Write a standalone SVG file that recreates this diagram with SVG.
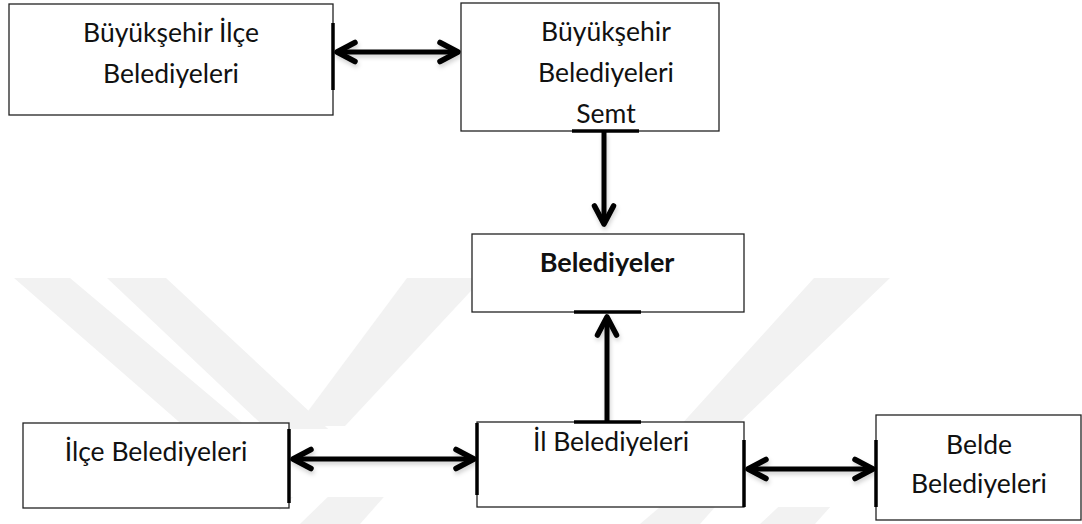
<svg xmlns="http://www.w3.org/2000/svg" width="1082" height="524" viewBox="0 0 1082 524">
<style>
.box{fill:#fff;stroke:#222;stroke-width:1.3}
.t{font-family:Lato,"Liberation Sans",Arial,sans-serif;font-size:26.5px;fill:#111;text-anchor:middle}
.b{font-weight:bold;font-size:27px}
.wm{fill:#f2f2f2}
.bar{stroke:#000;stroke-width:3.5;fill:none}
.ln{stroke:#000;stroke-width:5;fill:none;marker-end:url(#ah)}
.dbl{marker-start:url(#ah)}
.clr{fill:#fff}
</style>
<defs>
<marker id="ah" markerUnits="userSpaceOnUse" markerWidth="40" markerHeight="40" viewBox="-30 -20 40 40" refX="0" refY="0" orient="auto-start-reverse" overflow="visible">
<path d="M-18,-9.5 L0,0 L-18,9.5" fill="none" stroke="#000" stroke-width="5.5" stroke-linecap="round" stroke-linejoin="round"/>
</marker>
<filter id="sh" x="-10%" y="-30%" width="130%" height="180%"><feDropShadow dx="1" dy="3" stdDeviation="2" flood-color="#000" flood-opacity="0.18"/></filter>
</defs>
<rect width="1082" height="524" fill="#fff"/>
<g id="watermark">
<polygon class="wm" points="14,278 70,278 310,480 280,510"/>
<polygon class="wm" points="107,278 166,278 340,440 310,470"/>
<polygon class="wm" points="407,278 483,278 345,426 297,426"/>
<polygon class="wm" points="814,278 890,278 690,470 640,470"/>
<polygon class="wm" points="300,524 335,490 390,490 360,524"/>
<polygon class="wm" points="640,524 680,490 730,490 700,524"/>
<polygon class="wm" points="760,524 790,496 840,496 815,524"/>
</g>
<g id="connectors">
<rect class="clr" x="290" y="429" width="187" height="68"/>
<rect class="clr" x="744" y="440" width="132" height="67"/>
<rect class="clr" x="574" y="312" width="67" height="110"/>
<g filter="url(#sh)">
<line class="ln dbl" x1="337" y1="52" x2="458" y2="52"/>
<line class="ln" x1="604" y1="132" x2="604" y2="224"/>
<line class="ln" x1="607" y1="421" x2="607" y2="317"/>
<line class="ln dbl" x1="293" y1="459" x2="474" y2="459"/>
<line class="ln dbl" x1="748" y1="469" x2="873" y2="469"/>
</g>
</g>
<g id="n1"><rect class="box" x="9" y="4" width="324" height="111"/>
<text class="t" x="171" y="42">Büyükşehir İlçe</text><text class="t" x="171" y="83">Belediyeleri</text></g>
<g id="n2"><rect class="box" x="461" y="3" width="258" height="128"/>
<text class="t" x="606" y="41">Büyükşehir</text><text class="t" x="606" y="82">Belediyeleri</text><text class="t" x="606" y="123">Semt</text></g>
<g id="n3"><rect class="box" x="472" y="234" width="272" height="78"/>
<text class="t b" x="607" y="272">Belediyeler</text></g>
<g id="n4"><rect class="box" x="23" y="423" width="266" height="85"/>
<text class="t" x="156" y="461">İlçe Belediyeleri</text></g>
<g id="n5"><rect class="box" x="477" y="422" width="267" height="85"/>
<text class="t" x="611" y="451">İl Belediyeleri</text></g>
<g id="n6"><rect class="box" x="876" y="415" width="205" height="105"/>
<text class="t" x="979" y="454">Belde</text><text class="t" x="979" y="493">Belediyeleri</text></g>
<g id="bars">
<line class="bar" x1="333" y1="23" x2="333" y2="90"/>
<line class="bar" x1="572" y1="131" x2="639" y2="131"/>
<line class="bar" x1="574" y1="312" x2="641" y2="312"/>
<line class="bar" x1="574" y1="422" x2="641" y2="422"/>
<line class="bar" x1="477" y1="423" x2="477" y2="495"/>
<line class="bar" x1="744" y1="440" x2="744" y2="507"/>
<line class="bar" x1="289" y1="429" x2="289" y2="503"/>
<line class="bar" x1="876" y1="440" x2="876" y2="507"/>
</g>
</svg>
